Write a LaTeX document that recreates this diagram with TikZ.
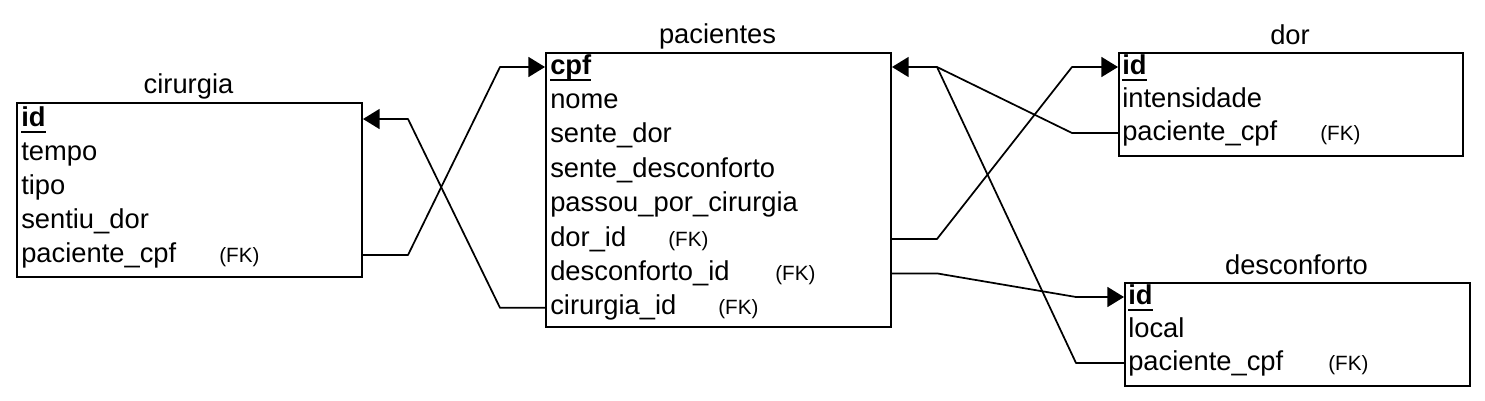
\documentclass[tikz,border=0pt]{standalone}
\usepackage{fontspec}
\setmainfont{Liberation Sans}
\usetikzlibrary{arrows.meta,calc}
\newcommand\rowfont{\fontsize{20.5}{24}\selectfont}
\newcommand\fkfont{\fontsize{15.5}{18}\selectfont}
\newsavebox\pkbox
\newcommand\pk[1]{\sbox\pkbox{\textbf{#1}}\usebox\pkbox\llap{\rule[-5.5pt]{\wd\pkbox}{1.4pt}}}
\tikzset{
  tbl/.style 2 args={draw, line width=1.5pt, inner sep=0pt, anchor=north west,
    minimum width={#1*0.75pt}, minimum height={#2*0.75pt}},
  ttl/.style={anchor=base, inner sep=0pt, font=\rowfont},
  fld/.style={anchor=west, inner sep=0pt, font=\rowfont, text height=10.5pt, text depth=0pt},
  fk/.style={anchor=west, inner sep=0pt, font=\fkfont, text height=10.5pt, text depth=0pt},
  rel/.style={line width=1.3pt, line join=round},
  arr/.style={rel, -{Triangle[length=12.5pt, width=15pt]}}
}
\begin{document}
\begin{tikzpicture}[x=0.75pt, y=-0.75pt]
\useasboundingbox (0,0) rectangle (1485,400);

% cirurgia
\node[tbl={345}{174}] (cir) at (16,102) {};
\node[ttl] (cirt) at (188.5,93) {cirurgia};
\node[fld] (c1) at (21,119) {\pk{id}};
\node[fld] (c2) at (21,153) {tempo};
\node[fld] (c3) at (21,187) {tipo};
\node[fld] (c4) at (21,221) {sentiu\_dor};
\node[fld] (c5) at (21,255) {paciente\_cpf};
\node[fk] (c5fk) at (219,255) {(FK)};

% pacientes
\node[tbl={345}{274}] (pac) at (545,52) {};
\node[ttl] (pact) at (717.5,43) {pacientes};
\node[fld] (p1) at (550,67) {\pk{cpf}};
\node[fld] (p2) at (550,101.4) {nome};
\node[fld] (p3) at (550,135.8) {sente\_dor};
\node[fld] (p4) at (550,170.2) {sente\_desconforto};
\node[fld] (p5) at (550,204.6) {passou\_por\_cirurgia};
\node[fld] (p6) at (550,239) {dor\_id};
\node[fk] (p6fk) at (668,239) {(FK)};
\node[fld] (p7) at (550,273.4) {desconforto\_id};
\node[fk] (p7fk) at (775,273.4) {(FK)};
\node[fld] (p8) at (550,307.8) {cirurgia\_id};
\node[fk] (p8fk) at (718,307.8) {(FK)};

% dor
\node[tbl={344}{103}] (dor) at (1118,52) {};
\node[ttl] (dort) at (1290,44) {dor};
\node[fld] (d1) at (1122,67) {\pk{id}};
\node[fld] (d2) at (1122,100) {intensidade};
\node[fld] (d3) at (1122,133) {paciente\_cpf};
\node[fk] (d3fk) at (1320,133) {(FK)};

% desconforto
\node[tbl={345}{103}] (des) at (1124,282) {};
\node[ttl] (dest) at (1296.5,274) {desconforto};
\node[fld] (e1) at (1128,297) {\pk{id}};
\node[fld] (e2) at (1128,330) {local};
\node[fld] (e3) at (1128,363) {paciente\_cpf};
\node[fk] (e3fk) at (1328,363) {(FK)};

% relationships
\draw[arr] (cir.east |- c5.west) -- ++(45,0) -- ($(pac.west |- p1.west)+(-45,0)$) -- (pac.west |- p1.west);
\draw[arr] (pac.west |- p8.west) -- ++(-45,0) -- ($(cir.east |- c1.west)+(45,0)$) -- (cir.east |- c1.west);
\draw[arr] (pac.east |- p6.west) -- ++(45,0) -- ($(dor.west |- d1.west)+(-46,0)$) -- (dor.west |- d1.west);
\draw[arr] (pac.east |- p7.west) -- ++(45,0) -- ($(des.west |- e1.west)+(-48,0)$) -- (des.west |- e1.west);
\draw[arr] (dor.west |- d3.west) -- ++(-46,0) -- ($(pac.east |- p1.west)+(45,0)$) -- (pac.east |- p1.west);
\draw[rel] (des.west |- e3.west) -- ++(-48,0) -- ($(pac.east |- p1.west)+(45,0)$);
\end{tikzpicture}
\end{document}
